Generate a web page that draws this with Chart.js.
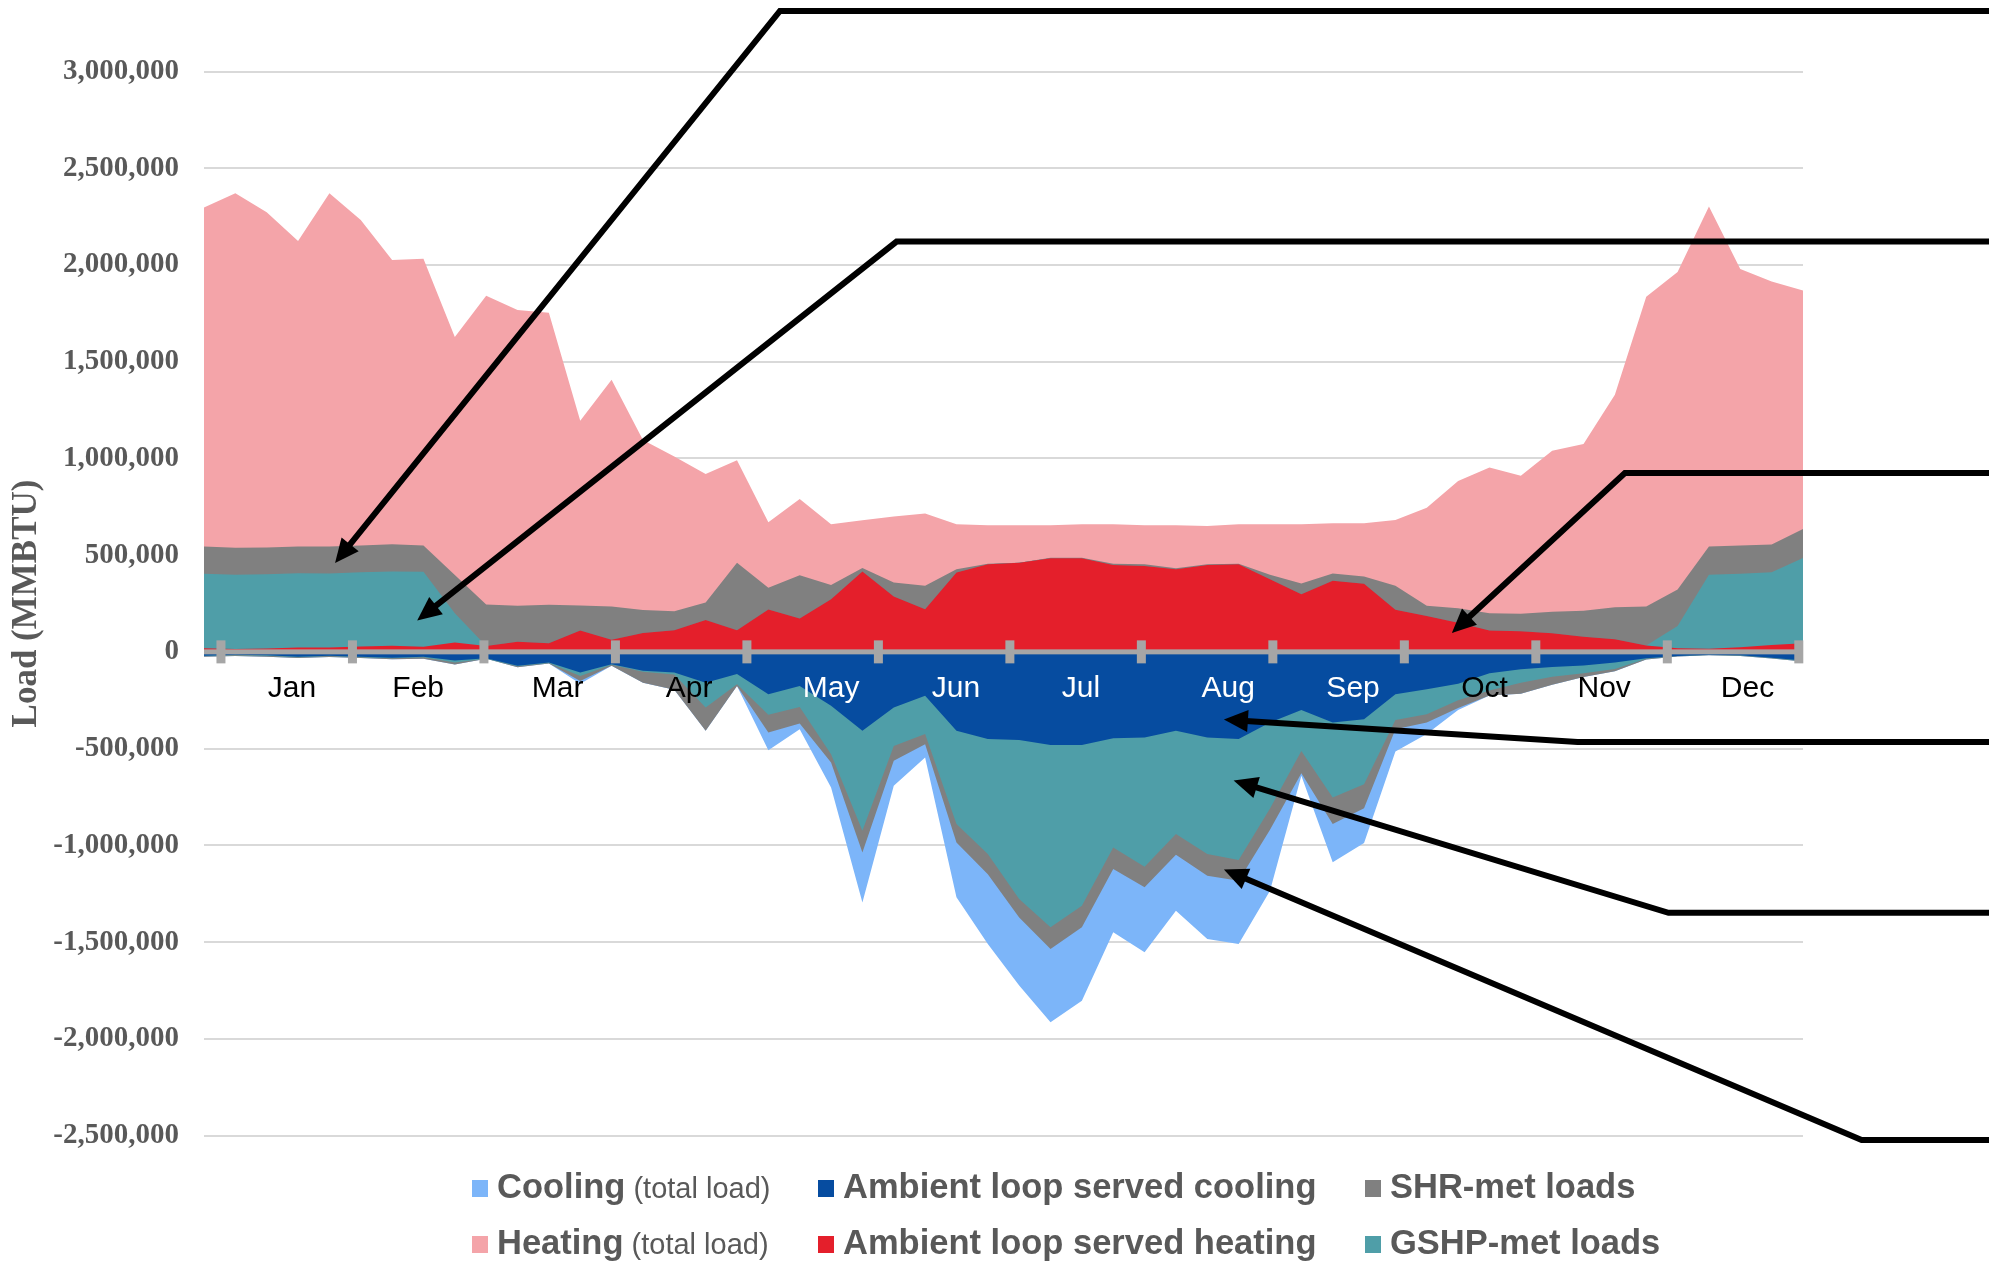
<!DOCTYPE html>
<html>
<head>
<meta charset="utf-8">
<title>Weekly heating and cooling loads</title>
<script src="https://cdn.jsdelivr.net/npm/chart.js@4.4.1/dist/chart.umd.min.js"></script>
<style>
  html, body { margin: 0; padding: 0; background: #ffffff; }
  #wrap { width: 1989px; height: 1262px; }
</style>
</head>
<body>
<div id="wrap"><canvas id="chartLoads" width="1989" height="1262"></canvas></div>
<script>
// week index of each point (52 weekly values)
const weeks = [1, 2, 3, 4, 5, 6, 7, 8, 9, 10, 11, 12, 13, 14, 15, 16, 17, 18, 19, 20, 21, 22, 23, 24, 25, 26,
               27, 28, 29, 30, 31, 32, 33, 34, 35, 36, 37, 38, 39, 40, 41, 42, 43, 44, 45, 46, 47, 48, 49, 50, 51, 52];
const months = ['Jan', 'Feb', 'Mar', 'Apr', 'May', 'Jun', 'Jul', 'Aug', 'Sep', 'Oct', 'Nov', 'Dec'];

// heating side (MMBTU) - top edge of each band
const heatingTotal = [2297000, 2371000, 2272000, 2124000, 2371000, 2233000, 2025000, 2032000, 1628000, 1841000, 1767000, 1753000, 1195000,
                      1407000, 1095000, 1010000, 920000, 990000, 670000, 790000, 660000, 680000, 700000, 715000, 660000, 655000,
                      655000, 655000, 660000, 660000, 655000, 655000, 650000, 660000, 660000, 660000, 665000, 665000, 681000,
                      745000, 883000, 953000, 911000, 1040000, 1075000, 1329000, 1836000, 1963000, 2302000, 1979000, 1914000, 1868000];
const shrHeating = [545000, 538000, 540000, 545000, 545000, 550000, 556000, 550000, 397000, 245000, 239000, 243000, 240000,
                    234000, 217000, 210000, 255000, 460000, 332000, 396000, 345000, 433000, 359000, 342000, 427000, 456000,
                    461000, 487000, 487000, 456000, 453000, 432000, 453000, 456000, 398000, 353000, 405000, 390000, 342000,
                    238000, 225000, 200000, 197000, 208000, 213000, 231000, 234000, 323000, 545000, 550000, 555000, 635000];
const gshpHeating = [404000, 399000, 401000, 407000, 405000, 412000, 416000, 414000, 200000, 30000, 52000, 44000, 111000,
                     62000, 97000, 112000, 165000, 112000, 219000, 172000, 272000, 415000, 286000, 220000, 410000, 453000,
                     461000, 484000, 484000, 449000, 444000, 427000, 449000, 453000, 375000, 298000, 368000, 352000, 218000,
                     186000, 150000, 110000, 106000, 96000, 78000, 65000, 33000, 134000, 399000, 404000, 412000, 485000];
const ambientHeating = [19000, 15000, 18000, 23000, 22000, 28000, 31000, 26000, 49000, 30000, 52000, 44000, 111000,
                        62000, 97000, 112000, 165000, 112000, 219000, 172000, 272000, 415000, 286000, 220000, 410000, 453000,
                        461000, 484000, 484000, 449000, 444000, 427000, 449000, 453000, 375000, 298000, 368000, 352000, 218000,
                        186000, 150000, 110000, 106000, 96000, 78000, 65000, 33000, 19000, 16000, 24000, 35000, 45000];

// cooling side (MMBTU, negative) - bottom edge of each band
const coolingTotal = [-25000, -22000, -25000, -32000, -27000, -32000, -38000, -35000, -65000, -36000, -80000, -60000, -165000,
                      -72000, -160000, -196000, -408000, -176000, -508000, -400000, -701000, -1295000, -692000, -546000, -1269000, -1510000,
                      -1725000, -1915000, -1803000, -1450000, -1553000, -1338000, -1484000, -1510000, -1235000, -640000, -1088000, -988000, -515000,
                      -425000, -300000, -225000, -216000, -170000, -130000, -100000, -40000, -24000, -18000, -21000, -34000, -50000];
const shrCooling = [-25000, -22000, -25000, -32000, -27000, -32000, -38000, -35000, -65000, -36000, -80000, -60000, -150000,
                    -72000, -160000, -196000, -408000, -176000, -417000, -370000, -572000, -1037000, -563000, -477000, -985000, -1149000,
                    -1373000, -1536000, -1424000, -1123000, -1217000, -1049000, -1157000, -1183000, -920000, -628000, -890000, -808000, -400000,
                    -365000, -290000, -225000, -216000, -170000, -130000, -100000, -40000, -24000, -18000, -21000, -34000, -50000];
const gshpCooling = [-22000, -18000, -20000, -28000, -22000, -28000, -33000, -28000, -55000, -36000, -75000, -58000, -125000,
                     -66000, -103000, -117000, -288000, -167000, -325000, -285000, -529000, -925000, -486000, -425000, -890000, -1045000,
                     -1278000, -1424000, -1312000, -1011000, -1111000, -942000, -1045000, -1076000, -810000, -512000, -753000, -684000, -352000,
                     -322000, -250000, -200000, -160000, -128000, -110000, -88000, -36000, -22000, -16000, -19000, -32000, -48000];
const ambientCooling = [-20000, -15000, -18000, -25000, -20000, -25000, -30000, -25000, -45000, -33000, -72000, -55000, -107000,
                        -64000, -98000, -107000, -160000, -115000, -219000, -176000, -279000, -408000, -288000, -227000, -408000, -451000,
                        -456000, -482000, -482000, -446000, -443000, -408000, -443000, -451000, -365000, -301000, -365000, -348000, -219000,
                        -193000, -165000, -110000, -90000, -78000, -70000, -55000, -33000, -21000, -15000, -18000, -30000, -45000];

// callout arrows: [week index, load] from arrow tip to the right edge
const callouts = [
  [[4.18, 459000], [18.37, 3313000], [57.5, 3313000]],
  [[6.80, 162000], [22.09, 2121000], [57.5, 2121000]],
  [[39.80, 98000], [45.32, 924000], [57.5, 924000]],
  [[32.53, -350000], [43.81, -466000], [57.5, -466000]],
  [[32.84, -665000], [46.71, -1349000], [57.5, -1349000]],
  [[32.53, -1125000], [52.87, -2523000], [57.5, -2523000]]
];

const COL = {
  heatTotal: '#f4a4a9',
  coolTotal: '#7cb5f9',
  shr: '#808080',
  gshp: '#4f9ea8',
  ambHeat: '#e41f2b',
  ambCool: '#064ca0'
};
const monthTextColor = ['#000', '#000', '#000', '#000', '#fff', '#fff', '#fff', '#fff', '#fff', '#000', '#000', '#000'];
// where each month name sits inside its slot (fraction of the month)
const monthLabelAt = [0.54, 0.50, 0.56, 0.56, 0.64, 0.59, 0.54, 0.66, 0.61, 0.61, 0.52, 0.61];

const legendRows = [
  [{ name: 'Cooling', note: ' (total load)', color: COL.coolTotal },
   { name: 'Ambient loop served cooling', note: '', color: COL.ambCool },
   { name: 'SHR-met loads', note: '', color: COL.shr }],
  [{ name: 'Heating', note: ' (total load)', color: COL.heatTotal },
   { name: 'Ambient loop served heating', note: '', color: COL.ambHeat },
   { name: 'GSHP-met loads', note: '', color: COL.gshp }]
];

function band(label, data, color) {
  return {
    label: label,
    data: data,
    backgroundColor: color,
    borderWidth: 0,
    pointRadius: 0,
    pointHoverRadius: 0,
    fill: 'origin',
    tension: 0
  };
}

// zero line with month tick marks and month names
const monthAxis = {
  id: 'monthAxis',
  afterDatasetsDraw(chart) {
    const ctx = chart.ctx;
    const area = chart.chartArea;
    const xm = chart.scales.xm;
    const y0 = chart.scales.y.getPixelForValue(0);
    ctx.save();
    ctx.fillStyle = '#a6a6a6';
    ctx.fillRect(area.left, y0 - 2.5, area.right - area.left, 5);
    for (let m = 0; m <= 12; m++) {
      const px = xm.getPixelForValue(m);
      ctx.fillRect(px - 4.5, y0 - 11.5, 9, 23);
    }
    ctx.font = '30px "Liberation Sans", Arial, sans-serif';
    ctx.textAlign = 'center';
    ctx.textBaseline = 'middle';
    months.forEach((name, m) => {
      ctx.fillStyle = monthTextColor[m];
      ctx.fillText(name, xm.getPixelForValue(m + monthLabelAt[m]), y0 + 37);
    });
    ctx.restore();
  }
};

const calloutArrows = {
  id: 'calloutArrows',
  afterDraw(chart) {
    const ctx = chart.ctx;
    const xs = chart.scales.x;
    const ys = chart.scales.y;
    ctx.save();
    ctx.strokeStyle = '#000';
    ctx.fillStyle = '#000';
    ctx.lineWidth = 6;
    ctx.lineJoin = 'miter';
    callouts.forEach(pts => {
      const p = pts.map(([w, v]) => [xs.getPixelForValue(w), ys.getPixelForValue(v)]);
      const ang = Math.atan2(p[1][1] - p[0][1], p[1][0] - p[0][0]);
      const headLen = 24, headHalf = 11;
      const bx = p[0][0] + Math.cos(ang) * headLen;
      const by = p[0][1] + Math.sin(ang) * headLen;
      ctx.beginPath();
      ctx.moveTo(bx - Math.cos(ang) * 2, by - Math.sin(ang) * 2);
      for (let i = 1; i < p.length; i++) ctx.lineTo(p[i][0], p[i][1]);
      ctx.stroke();
      ctx.beginPath();
      ctx.moveTo(p[0][0], p[0][1]);
      ctx.lineTo(bx - Math.sin(ang) * headHalf, by + Math.cos(ang) * headHalf);
      ctx.lineTo(bx + Math.sin(ang) * headHalf, by - Math.cos(ang) * headHalf);
      ctx.closePath();
      ctx.fill();
    });
    ctx.restore();
  }
};

const bottomLegend = {
  id: 'bottomLegend',
  afterDraw(chart) {
    const ctx = chart.ctx;
    const colX = [472, 818, 1365];
    const rowY = [1188, 1244];
    ctx.save();
    ctx.textBaseline = 'middle';
    ctx.textAlign = 'left';
    legendRows.forEach((row, r) => {
      row.forEach((item, c) => {
        ctx.fillStyle = item.color;
        ctx.fillRect(colX[c], rowY[r] - 8, 16, 17);
        ctx.fillStyle = '#595959';
        ctx.font = 'bold 34.5px "Liberation Sans", Arial, sans-serif';
        ctx.fillText(item.name, colX[c] + 25, rowY[r]);
        if (item.note) {
          const w = ctx.measureText(item.name).width;
          ctx.font = '29px "Liberation Sans", Arial, sans-serif';
          ctx.fillText(item.note, colX[c] + 25 + w, rowY[r] + 2);
        }
      });
    });
    ctx.restore();
  }
};

const chartLoads = document.getElementById('chartLoads').getContext('2d');

new Chart(chartLoads, {
  type: 'line',
  data: {
    labels: weeks,
    datasets: [
      band('Ambient loop served heating', ambientHeating, COL.ambHeat),
      band('Ambient loop served cooling', ambientCooling, COL.ambCool),
      band('GSHP-met loads (heating)', gshpHeating, COL.gshp),
      band('GSHP-met loads (cooling)', gshpCooling, COL.gshp),
      band('SHR-met loads (heating)', shrHeating, COL.shr),
      band('SHR-met loads (cooling)', shrCooling, COL.shr),
      band('Heating (total load)', heatingTotal, COL.heatTotal),
      band('Cooling (total load)', coolingTotal, COL.coolTotal)
    ]
  },
  options: {
    responsive: false,
    devicePixelRatio: 1,
    animation: false,
    layout: { padding: { top: 71.5, right: 186, bottom: 126.5, left: 0 } },
    plugins: {
      legend: { display: false },
      tooltip: { enabled: false }
    },
    scales: {
      x: { type: 'category', display: false, offset: false },
      xm: { type: 'linear', axis: 'x', position: 'bottom', display: false, min: -0.129, max: 12.032 },
      y: {
        min: -2500000,
        max: 3000000,
        afterFit(scale) { scale.width = 204; },
        border: { display: false },
        grid: {
          drawTicks: false,
          lineWidth: 2,
          color: ctx => (ctx.tick && ctx.tick.value === 0) ? 'rgba(0,0,0,0)' : '#d9d9d9'
        },
        ticks: {
          stepSize: 500000,
          padding: 25,
          color: '#595959',
          font: { family: '"Liberation Serif", "Times New Roman", serif', size: 29, weight: 'bold' },
          callback: v => v.toLocaleString('en-US')
        },
        title: {
          display: true,
          text: 'Load (MMBTU)',
          color: '#595959',
          padding: { top: 6, bottom: 0 },
          font: { family: '"Liberation Serif", "Times New Roman", serif', size: 35, weight: 'bold' }
        }
      }
    }
  },
  plugins: [monthAxis, calloutArrows, bottomLegend]
});
</script>
</body>
</html>
